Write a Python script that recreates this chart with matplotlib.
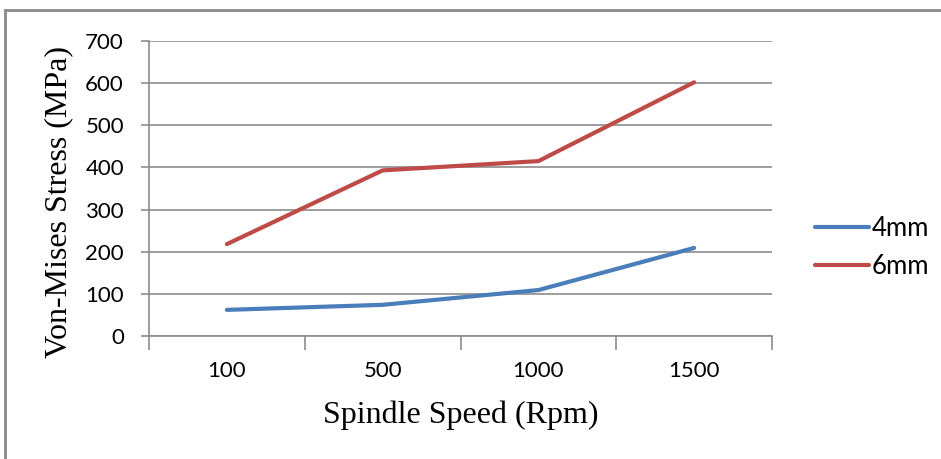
import matplotlib
matplotlib.use("Agg")
import matplotlib.pyplot as plt
from matplotlib.patches import Rectangle

# data
speeds = ["100", "500", "1000", "1500"]
stress_4mm = [62, 74, 109, 209]
stress_6mm = [218, 393, 415, 602]
y_ticks = [0, 100, 200, 300, 400, 500, 600, 700]

fig = plt.figure(figsize=(9.41, 4.59), dpi=100)
ax = fig.add_axes([149 / 941, 123 / 459, 623 / 941, 295 / 459])

x = list(range(len(speeds)))
ax.plot(x, stress_4mm, color="#4A7EBB", lw=3, solid_capstyle="round", label="4mm")
ax.plot(x, stress_6mm, color="#BE4B48", lw=3, solid_capstyle="round", label="6mm")

ax.set_xlim(-0.5, len(speeds) - 0.5)
ax.set_ylim(0, 700)
ax.set_yticks(y_ticks)
ax.grid(axis="y", color="#8C8C8C", lw=1.2)
ax.set_axisbelow(True)

# category axis: ticks between categories, labels centred
ax.set_xticks([i - 0.5 for i in range(len(speeds) + 1)])
ax.set_xticklabels([])
ax.set_xticks(x, minor=True)
ax.set_xticklabels(speeds, minor=True)
ax.tick_params(axis="x", which="major", length=10, width=1.2, color="#8C8C8C")
ax.tick_params(axis="x", which="minor", length=0, pad=18, labelsize=16)
ax.tick_params(axis="y", length=6, width=1.2, color="#8C8C8C", labelsize=16, pad=12)
for lbl in ax.get_xticklabels(minor=True) + ax.get_yticklabels():
    lbl.set_family("Lato")

for side in ["top", "right"]:
    ax.spines[side].set_visible(False)
for side in ["left", "bottom"]:
    ax.spines[side].set_color("#8C8C8C")
    ax.spines[side].set_linewidth(1.2)

ax.set_xlabel("Spindle Speed (Rpm)", family="Liberation Serif", fontsize=23, labelpad=14)
ax.set_ylabel("Von-Mises Stress (MPa)", family="Liberation Serif", fontsize=23)
ax.yaxis.set_label_coords(-0.122, 0.454)

leg = ax.legend(loc="center left", bbox_to_anchor=(1.069, 0.3), frameon=False,
                prop={"family": "Lato", "size": 18.5}, handlelength=2.1,
                handletextpad=0.1, labelspacing=0.5, borderpad=0, borderaxespad=0)

# outer chart border
fig.patches.append(Rectangle((5 / 941, -0.05), 1.0, 1 - 10 / 459 + 0.05,
                             transform=fig.transFigure, fill=False,
                             edgecolor="#8A8A8A", lw=2))

fig.savefig("out.png", dpi=100)
